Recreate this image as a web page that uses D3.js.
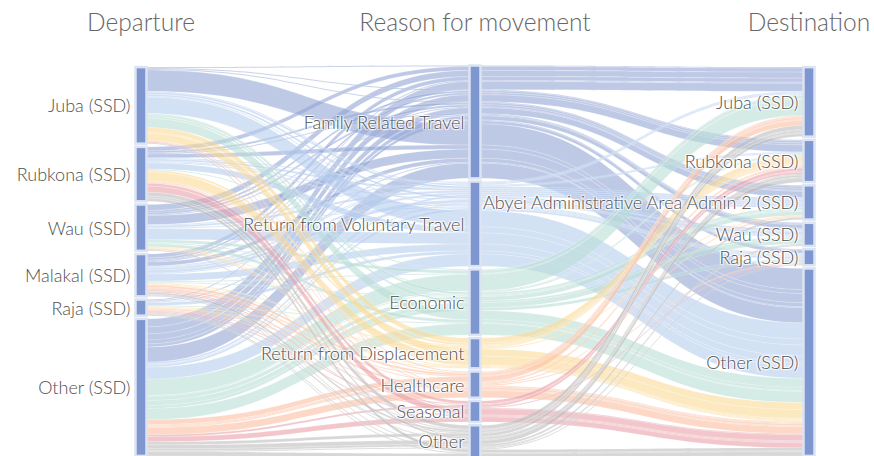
<!DOCTYPE html>
<html>
<head>
<meta charset="utf-8">
<script src="https://cdn.jsdelivr.net/npm/d3@7"></script>
<style>
  html, body { margin: 0; padding: 0; background: #fff; }
  svg { display: block; }
  text { font-family: Lato, "Open Sans", sans-serif; font-weight: 300; }
</style>
</head>
<body>
<svg id="chart" width="874" height="456"></svg>
<script>
// Dimensions, categories and ribbon colours
const dimensions = ["Departure", "Reason for movement", "Destination"];
const departures = ["Juba (SSD)", "Rubkona (SSD)", "Wau (SSD)", "Malakal (SSD)", "Raja (SSD)", "Other (SSD)"];
const reasons = ["Family Related Travel", "Return from Voluntary Travel", "Economic",
                 "Return from Displacement", "Healthcare", "Seasonal", "Other"];
const destinations = ["Juba (SSD)", "Rubkona (SSD)", "Abyei Administrative Area Admin 2 (SSD)",
                      "Wau (SSD)", "Raja (SSD)", "Other (SSD)"];
const reasonColors = ["#93a5d5", "#b6cdee", "#b9ded5", "#fcda96", "#fcbea0", "#e9a0a8", "#bcbcbc"];

// Movements per reason: rows = departure, columns = destination
// (Juba, Rubkona, Abyei, Wau, Raja, Other)
const familyRelatedTravel = [
  [1, 1, 1, 0, 0, 21],
  [4, 0, 2, 1, 0, 4],
  [6, 2, 2, 0, 1, 9],
  [4, 2, 1, 1, 0, 4],
  [1, 0, 0, 0, 0, 1],
  [8, 7, 6, 4, 3, 15]
];
const returnFromVoluntaryTravel = [
  [0, 1, 2, 2, 1, 16],
  [1, 0, 2, 1, 1, 6],
  [1, 0, 2, 0, 1, 11],
  [1, 1, 2, 3, 1, 7],
  [0, 0, 0, 1, 0, 3],
  [0, 0, 2, 1, 2, 12]
];
const economic = [
  [0, 1, 2, 2, 0, 9],
  [1, 0, 0, 0, 0, 0],
  [3, 0, 1, 0, 0, 3],
  [1, 0, 1, 0, 0, 0],
  [0, 0, 0, 0, 0, 1],
  [16, 1, 4, 5, 3, 11]
];
const returnFromDisplacement = [
  [0, 5, 1, 0, 0, 7],
  [0, 2, 0, 0, 0, 9],
  [0, 1, 0, 0, 0, 1],
  [0, 1, 0, 0, 0, 1],
  [0, 1, 0, 0, 0, 1],
  [0, 0, 0, 0, 0, 0]
];
const healthcare = [
  [0, 0, 0, 0, 0, 1],
  [1, 0, 0, 0, 0, 1],
  [1, 0, 0, 0, 0, 0],
  [2, 1, 0, 0, 0, 2],
  [1, 0, 0, 0, 0, 1],
  [5, 1, 1, 0, 1, 7]
];
const seasonal = [
  [0, 0, 0, 0, 0, 1],
  [0, 3, 0, 0, 0, 6],
  [0, 0, 0, 0, 0, 0],
  [0, 1, 0, 0, 0, 1],
  [0, 0, 0, 0, 1, 1],
  [0, 2, 0, 0, 0, 5]
];
const otherReason = [
  [0, 1, 0, 0, 0, 0],
  [4, 2, 0, 0, 0, 3],
  [1, 0, 0, 0, 0, 0],
  [2, 1, 0, 1, 0, 0],
  [1, 0, 0, 0, 1, 1],
  [3, 4, 2, 1, 0, 4]
];
const flowsByReason = [familyRelatedTravel, returnFromVoluntaryTravel, economic,
                       returnFromDisplacement, healthcare, seasonal, otherReason];

// ---- build path list ----
const paths = [];
flowsByReason.forEach((matrix, r) => {
  matrix.forEach((row, i) => {
    row.forEach((v, j) => {
      if (v > 0) paths.push({ cats: [i, r, j], value: v, color: r });
    });
  });
});

// Paths are bundled by colour, then ordered by destination, reason, departure
paths.sort((a, b) =>
  d3.ascending(a.color, b.color) ||
  d3.ascending(a.cats[2], b.cats[2]) ||
  d3.ascending(a.cats[1], b.cats[1]) ||
  d3.ascending(a.cats[0], b.cats[0]));

// ---- layout ----
const svg = d3.select("#chart");
const yTop = 65.5, yBottom = 457.5, gap = 3.2, barW = 11;
const categoryLists = [departures, reasons, destinations];
const maxCats = d3.max(categoryLists, c => c.length);
const total = d3.sum(paths, p => p.value);
const y = d3.scaleLinear().domain([0, total]).range([0, yBottom - yTop - gap * (maxCats - 1)]);
const x = d3.scalePoint().domain(dimensions).range([135.5, 803.5]);

// category boxes per dimension
const boxes = categoryLists.map((cats, k) => {
  const counts = cats.map((_, c) => d3.sum(paths.filter(p => p.cats[k] === c), p => p.value));
  let cursor = yTop + (maxCats - cats.length) * gap / 2;
  return cats.map((name, c) => {
    const h = y(counts[c]);
    const box = { name, dim: k, y0: cursor, h, next: cursor };
    cursor += h + gap;
    return box;
  });
});

// stack each path inside its category for every dimension
paths.forEach(p => {
  p.ys = p.cats.map((c, k) => {
    const b = boxes[k][c];
    const yy = b.next;
    b.next += y(p.value);
    return yy;
  });
  p.h = y(p.value);
});

function ribbonPath(p) {
  const xs = dimensions.map(d => x(d));
  let s = `M${xs[0]},${p.ys[0]} h${barW}`;
  for (let k = 0; k < xs.length - 1; k++) {
    const x0 = xs[k] + barW, x1 = xs[k + 1], xm = (x0 + x1) / 2;
    s += ` C${xm},${p.ys[k]} ${xm},${p.ys[k + 1]} ${x1},${p.ys[k + 1]} h${barW}`;
  }
  s += ` V${p.ys[xs.length - 1] + p.h} h${-barW}`;
  for (let k = xs.length - 2; k >= 0; k--) {
    const x0 = xs[k] + barW, x1 = xs[k + 1], xm = (x0 + x1) / 2;
    s += ` C${xm},${p.ys[k + 1] + p.h} ${xm},${p.ys[k] + p.h} ${x0},${p.ys[k] + p.h} h${-barW}`;
  }
  return s + " Z";
}

// ribbons
svg.append("g")
  .selectAll("path")
  .data(paths)
  .join("path")
  .attr("d", ribbonPath)
  .attr("fill", p => reasonColors[p.color])
  .attr("fill-opacity", 0.6)
  .attr("stroke", "#ffffff")
  .attr("stroke-opacity", 0.5)
  .attr("stroke-width", 0.4);

// category bars
const dimGroups = svg.append("g")
  .selectAll("g")
  .data(boxes)
  .join("g");

dimGroups.selectAll("rect")
  .data(d => d)
  .join("rect")
  .attr("x", b => x(dimensions[b.dim]))
  .attr("y", b => b.y0)
  .attr("width", barW)
  .attr("height", b => b.h)
  .attr("fill", "#7f97d0")
  .attr("stroke", "#dce3f2")
  .attr("stroke-width", 2.5);

// category labels
dimGroups.selectAll("text")
  .data(d => d)
  .join("text")
  .attr("x", b => x(dimensions[b.dim]) - 5)
  .attr("y", b => b.y0 + b.h / 2)
  .attr("text-anchor", "end")
  .attr("dominant-baseline", "central")
  .attr("font-size", 18)
  .attr("fill", "#505050")
  .style("text-shadow", "1px 1px 1px #fff, -1px -1px 1px #fff, 1px -1px 1px #fff, -1px 1px 1px #fff")
  .text(b => b.name);

// dimension titles
svg.append("g")
  .selectAll("text")
  .data(dimensions)
  .join("text")
  .attr("x", d => x(d) + barW / 2)
  .attr("y", 31)
  .attr("text-anchor", "middle")
  .attr("font-size", 24.5)
  .attr("fill", "#666666")
  .text(d => d);
</script>
</body>
</html>
